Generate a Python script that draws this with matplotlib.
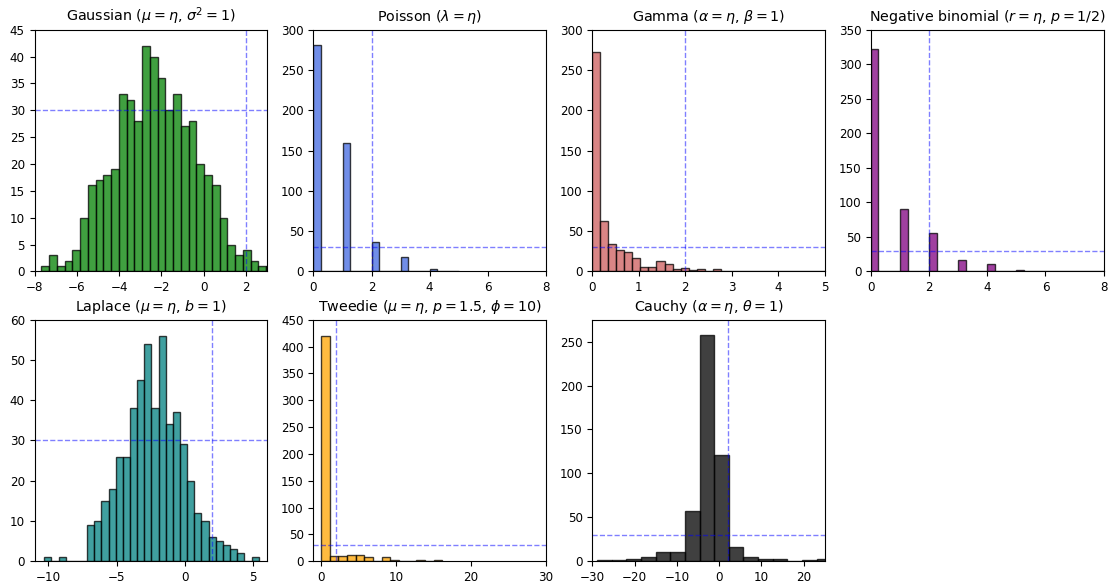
import numpy as np
import matplotlib
matplotlib.use("Agg")
import matplotlib.pyplot as plt
from matplotlib.ticker import MultipleLocator

plt.rcParams["font.size"] = 8.6
plt.rcParams["axes.titlesize"] = 10.3

# Gaussian: 30 equal bins starting at gauss_lo
gauss_lo, gauss_width = -7.68, 0.367
gauss_counts = [1, 3, 1, 2, 4, 10, 16, 17, 18, 19, 33, 32, 28, 42, 40,
                36, 30, 33, 27, 28, 20, 18, 16, 10, 5, 3, 4, 2, 1, 1]

# Poisson: counts per integer value, bins of 0.25 on [0, 5]
pois_values = [0, 1, 2, 3, 4, 5]
pois_counts = [281, 160, 37, 18, 3, 1]

# Gamma
gamma_lo, gamma_width = 0.0, 0.1725
gamma_counts = [273, 62, 34, 27, 24, 17, 6, 6, 13, 9, 3, 4, 2, 3, 1,
                3, 0, 1, 1, 1, 0, 0, 1, 0, 0, 0, 0, 0, 0, 1]

# Negative binomial: counts per integer value, bins of 0.25 on [0, 8]
nb_values = [0, 1, 2, 3, 4, 5, 6, 7, 8]
nb_counts = [322, 90, 56, 16, 11, 2, 1, 1, 1]

# Laplace
lap_lo, lap_width = -10.29, 0.5226
lap_counts = [1, 0, 1, 0, 0, 0, 9, 10, 15, 18, 26, 26, 38, 45, 54,
              38, 56, 34, 37, 29, 20, 12, 10, 6, 5, 4, 3, 2, 0, 1]

# Tweedie (bins visible inside the x-limits)
tw_lo, tw_width = 0.0, 1.156
tw_counts = [420, 10, 10, 12, 12, 7, 1, 7, 3, 1, 0, 3, 1, 3]

# Cauchy (bins visible inside the x-limits)
cau_lo, cau_width = -28.84, 3.46
cau_counts = [1, 1, 2, 5, 10, 10, 57, 257, 121, 16, 5, 3, 2, 0, 1, 2]

ETA_REF = 2
COUNT_REF = 30


def edges(lo, width, n):
    return lo + width * np.arange(n + 1)


def binned(lo, width, counts):
    e = edges(lo, width, len(counts))
    return e[:-1], e, counts


# title, (values, bins, counts), colour, xlim, ylim, xstep, ystep
panels = [
    (r"Gaussian ($\mu = \eta$, $\sigma^2 = 1$)",
     binned(gauss_lo, gauss_width, gauss_counts),
     "green", (-8, 3), (0, 45), 2, 5),
    (r"Poisson ($\lambda = \eta$)",
     (pois_values, np.linspace(0, 5, 21), pois_counts),
     "royalblue", (0, 8), (0, 300), 2, 50),
    (r"Gamma ($\alpha = \eta$, $\beta = 1$)",
     binned(gamma_lo, gamma_width, gamma_counts),
     "indianred", (0, 5), (0, 300), 1, 50),
    (r"Negative binomial ($r = \eta$, $p = 1/2$)",
     (nb_values, np.linspace(0, 8, 33), nb_counts),
     "purple", (0, 8), (0, 350), 2, 50),
    (r"Laplace ($\mu = \eta$, $b = 1$)",
     binned(lap_lo, lap_width, lap_counts),
     "teal", (-11, 6), (0, 60), 5, 10),
    (r"Tweedie ($\mu = \eta$, $p = 1.5$, $\phi = 10$)",
     binned(tw_lo, tw_width, tw_counts),
     "orange", (-1, 30), (0, 450), 10, 50),
    (r"Cauchy ($\alpha = \eta$, $\theta = 1$)",
     binned(cau_lo, cau_width, cau_counts),
     "black", (-30, 25), (0, 275), 10, 50),
]

fig, axes = plt.subplots(2, 4, figsize=(11.17, 5.84), dpi=100)
fig.subplots_adjust(left=0.031, right=0.988, bottom=0.039, top=0.949,
                    wspace=0.2, hspace=0.2)
axes = axes.ravel()

for ax, (title, (vals, bins, counts), color, xlim, ylim, xstep, ystep) in zip(axes, panels):
    ax.hist(vals, bins=bins, weights=counts, color=color, alpha=0.75,
            edgecolor="black")
    ax.axvline(ETA_REF, color="blue", linestyle="--", alpha=0.5, linewidth=1)
    ax.axhline(COUNT_REF, color="blue", linestyle="--", alpha=0.5, linewidth=1)
    ax.xaxis.set_major_locator(MultipleLocator(xstep))
    ax.yaxis.set_major_locator(MultipleLocator(ystep))
    ax.set_xlim(*xlim)
    ax.set_ylim(*ylim)
    ax.set_title(title)

axes[-1].remove()

fig.savefig("out.png", dpi=100)
